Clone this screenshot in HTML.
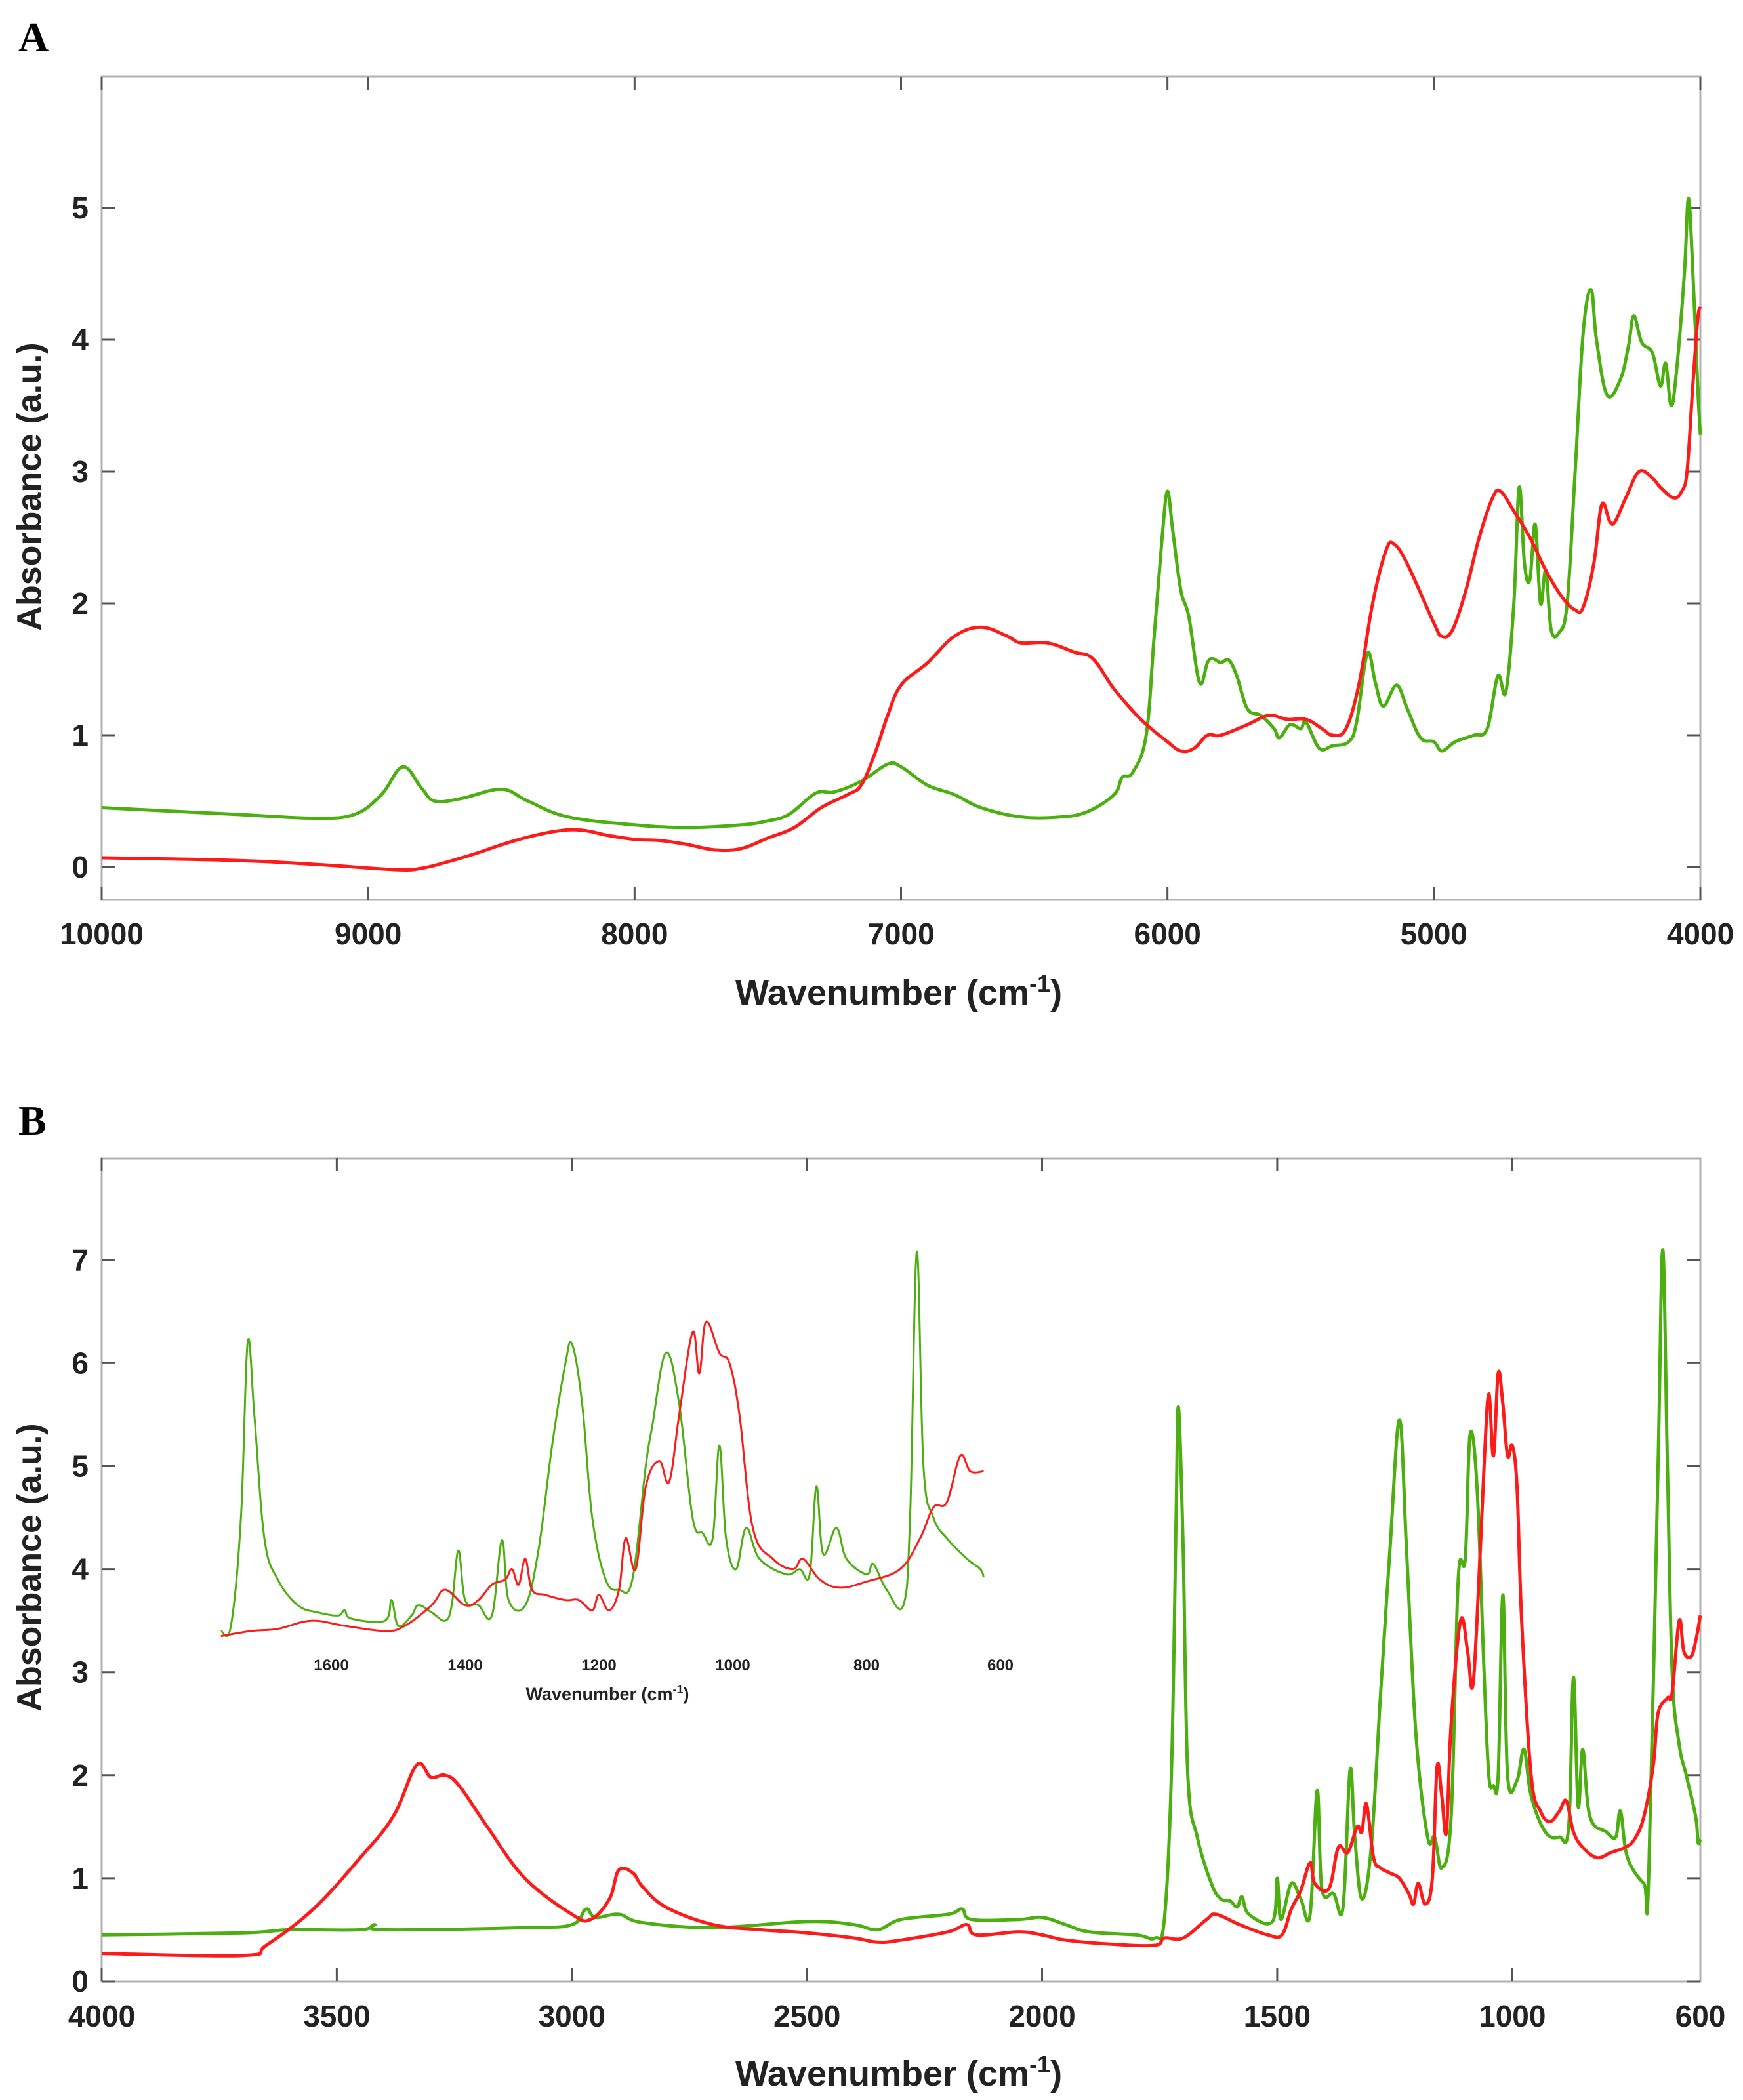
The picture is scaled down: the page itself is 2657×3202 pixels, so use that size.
<!DOCTYPE html>
<html><head><meta charset="utf-8"><style>
html,body{margin:0;padding:0;background:#fff;}
svg{display:block;font-family:"Liberation Sans",Arial,sans-serif;}
</style></head><body>
<svg id="fig" width="2657" height="3202" viewBox="0 0 2657 3202" xmlns="http://www.w3.org/2000/svg">
<text x="28" y="78" font-family="Liberation Serif,serif" font-weight="bold" font-size="64">A</text>
<text x="28" y="1730" font-family="Liberation Serif,serif" font-weight="bold" font-size="64">B</text>
<g id="pa"></g>
<g id="pb"></g>
</svg>
<script>
// ---- Panel A data ----
const aXTicks = [10000, 9000, 8000, 7000, 6000, 5000, 4000];
const aYTicks = [0, 1, 2, 3, 4, 5];
const aGreen = [[10000,0.45],[9500,0.40],[9200,0.37],[9050,0.40],[8950,0.55],[8870,0.76],[8800,0.60],[8750,0.50],[8650,0.52],[8500,0.59],[8400,0.50],[8250,0.38],[8000,0.32],[7800,0.30],[7600,0.32],[7500,0.35],[7420,0.40],[7320,0.56],[7250,0.57],[7150,0.65],[7050,0.78],[7000,0.76],[6900,0.62],[6800,0.55],[6700,0.45],[6550,0.38],[6400,0.38],[6300,0.42],[6200,0.55],[6170,0.68],[6130,0.72],[6080,1.00],[6050,1.75],[6020,2.5],[6000,2.85],[5980,2.55],[5950,2.10],[5920,1.90],[5880,1.40],[5850,1.55],[5830,1.58],[5800,1.55],[5770,1.57],[5740,1.45],[5700,1.20],[5650,1.15],[5600,1.05],[5580,0.98],[5540,1.08],[5500,1.05],[5480,1.10],[5430,0.90],[5380,0.92],[5320,0.95],[5290,1.10],[5250,1.62],[5220,1.40],[5190,1.22],[5140,1.38],[5100,1.20],[5050,0.98],[5000,0.95],[4970,0.88],[4920,0.95],[4850,1.00],[4800,1.05],[4760,1.45],[4730,1.33],[4700,2.00],[4680,2.88],[4660,2.30],[4640,2.18],[4620,2.60],[4600,2.00],[4580,2.25],[4560,1.80],[4530,1.78],[4500,2.00],[4470,3.00],[4440,4.05],[4410,4.38],[4390,4.00],[4350,3.58],[4300,3.70],[4270,3.95],[4250,4.18],[4220,3.98],[4180,3.90],[4150,3.65],[4130,3.82],[4110,3.50],[4090,3.75],[4060,4.50],[4045,5.07],[4030,4.60],[4010,3.65],[4000,3.28]];
const aRed = [[10000,0.07],[9500,0.05],[9200,0.02],[8900,-0.02],[8800,-0.01],[8700,0.04],[8600,0.10],[8450,0.20],[8300,0.27],[8200,0.28],[8100,0.24],[8000,0.21],[7900,0.20],[7800,0.17],[7700,0.13],[7600,0.14],[7500,0.22],[7400,0.30],[7300,0.45],[7200,0.55],[7150,0.62],[7100,0.85],[7050,1.15],[7000,1.38],[6900,1.55],[6800,1.75],[6700,1.82],[6600,1.75],[6550,1.70],[6450,1.70],[6350,1.63],[6280,1.58],[6200,1.35],[6100,1.12],[6000,0.95],[5950,0.88],[5900,0.90],[5850,1.00],[5800,1.00],[5700,1.08],[5620,1.15],[5550,1.12],[5480,1.12],[5420,1.05],[5380,1.00],[5330,1.05],[5280,1.40],[5230,2.00],[5180,2.40],[5150,2.45],[5100,2.30],[5000,1.85],[4970,1.75],[4930,1.80],[4880,2.10],[4830,2.50],[4780,2.80],[4750,2.85],[4700,2.70],[4640,2.50],[4580,2.25],[4520,2.05],[4470,1.95],[4440,1.97],[4400,2.30],[4370,2.75],[4340,2.62],[4320,2.62],[4280,2.80],[4230,3.00],[4180,2.95],[4150,2.88],[4100,2.80],[4070,2.85],[4050,3.00],[4030,3.60],[4010,4.15],[4000,4.25]];
// ---- Panel B data ----
const bXTicks = [4000, 3500, 3000, 2500, 2000, 1500, 1000];
const bXLabels = [4000, 3500, 3000, 2500, 2000, 1500, 1000, 600];
const bYTicks = [0, 1, 2, 3, 4, 5, 6, 7];
const bGreen = [[4000,0.45],[3700,0.47],[3600,0.50],[3450,0.50],[3420,0.55],[3400,0.50],[3100,0.52],[3000,0.55],[2970,0.70],[2950,0.62],[2900,0.65],[2850,0.57],[2700,0.52],[2500,0.58],[2400,0.55],[2350,0.50],[2300,0.60],[2200,0.65],[2170,0.70],[2150,0.60],[2050,0.60],[2000,0.62],[1950,0.55],[1900,0.48],[1800,0.45],[1760,0.42],[1740,0.60],[1725,2.0],[1715,4.5],[1710,5.57],[1700,4.2],[1690,2.0],[1670,1.4],[1640,0.95],[1620,0.80],[1600,0.78],[1585,0.72],[1575,0.82],[1560,0.65],[1510,0.58],[1500,1.0],[1492,0.6],[1470,0.95],[1450,0.80],[1430,0.65],[1415,1.85],[1405,0.90],[1380,0.85],[1360,0.72],[1345,2.05],[1335,1.40],[1320,0.80],[1300,1.30],[1280,2.80],[1260,4.20],[1240,5.45],[1225,4.20],[1205,2.40],[1180,1.40],[1165,1.40],[1150,1.10],[1130,1.60],[1115,3.90],[1100,4.10],[1090,5.30],[1075,4.80],[1060,3.00],[1050,2.00],[1040,1.90],[1030,2.00],[1020,3.75],[1010,2.00],[990,1.95],[975,2.25],[960,1.80],[930,1.45],[900,1.40],[880,1.50],[870,2.95],[860,1.70],[850,2.25],[835,1.60],[800,1.45],[780,1.40],[770,1.65],[755,1.20],[720,0.95],[710,1.00],[690,5.0],[680,7.1],[670,5.0],[660,3.0],[645,2.30],[630,2.00],[610,1.60],[605,1.35],[600,1.38]];
const bRed = [[4000,0.27],[3700,0.25],[3650,0.35],[3550,0.70],[3450,1.20],[3380,1.60],[3330,2.10],[3300,1.98],[3270,2.00],[3240,1.90],[3180,1.50],[3100,1.00],[3000,0.65],[2960,0.60],[2920,0.80],[2900,1.08],[2870,1.05],[2850,0.92],[2800,0.72],[2700,0.55],[2600,0.50],[2500,0.47],[2400,0.42],[2350,0.38],[2300,0.40],[2200,0.48],[2160,0.55],[2140,0.45],[2050,0.48],[2000,0.45],[1950,0.40],[1850,0.36],[1760,0.35],[1740,0.42],[1700,0.42],[1650,0.60],[1630,0.65],[1580,0.55],[1520,0.45],[1490,0.45],[1470,0.70],[1450,0.88],[1430,1.15],[1420,0.95],[1390,0.90],[1370,1.30],[1350,1.25],[1330,1.50],[1320,1.45],[1310,1.72],[1295,1.20],[1280,1.10],[1260,1.05],[1240,1.00],[1220,0.85],[1210,0.75],[1200,0.95],[1185,0.75],[1170,1.00],[1160,2.08],[1150,1.80],[1140,1.45],[1130,2.50],[1110,3.50],[1095,3.20],[1085,2.85],[1075,3.50],[1060,5.00],[1050,5.70],[1040,5.10],[1030,5.90],[1020,5.60],[1010,5.10],[1000,5.20],[990,4.80],[980,3.50],[960,2.00],[940,1.65],[920,1.55],[900,1.65],[885,1.75],[870,1.45],[850,1.30],[820,1.20],[790,1.25],[760,1.30],[740,1.38],[720,1.60],[700,2.10],[690,2.60],[670,2.75],[660,2.80],[645,3.50],[635,3.20],[620,3.15],[610,3.30],[600,3.55]];
// ---- Inset data ----
const iXLabels = [1600, 1400, 1200, 1000, 800, 600];
const iGreen = [[1765,3.40],[1750,3.45],[1735,4.50],[1725,6.20],[1715,5.50],[1700,4.30],[1680,3.90],[1650,3.65],[1620,3.58],[1590,3.55],[1580,3.60],[1570,3.52],[1520,3.50],[1510,3.70],[1500,3.45],[1480,3.55],[1470,3.65],[1450,3.58],[1430,3.50],[1420,3.65],[1410,4.18],[1400,3.70],[1380,3.65],[1360,3.55],[1345,4.28],[1335,3.70],[1310,3.65],[1290,4.20],[1270,5.20],[1250,6.00],[1240,6.18],[1225,5.60],[1210,4.50],[1190,3.90],[1170,3.80],[1150,3.90],[1130,5.00],[1120,5.40],[1100,6.10],[1080,5.60],[1060,4.50],[1045,4.35],[1030,4.30],[1020,5.20],[1010,4.30],[995,4.00],[980,4.40],[960,4.10],[920,3.95],[900,4.00],[885,3.95],[875,4.80],[865,4.15],[845,4.40],[830,4.10],[800,3.95],[790,4.05],[770,3.80],[745,3.65],[735,4.50],[725,7.08],[715,5.00],[700,4.50],[680,4.30],[650,4.10],[630,4.00],[625,3.92]];
const iRed = [[1765,3.35],[1720,3.40],[1680,3.42],[1630,3.50],[1580,3.45],[1520,3.40],[1490,3.45],[1450,3.65],[1430,3.80],[1400,3.65],[1380,3.70],[1360,3.85],[1340,3.90],[1330,4.00],[1320,3.85],[1310,4.10],[1300,3.80],[1280,3.75],[1250,3.70],[1230,3.70],[1210,3.60],[1200,3.75],[1185,3.60],[1170,3.80],[1160,4.30],[1145,4.00],[1130,4.80],[1110,5.05],[1095,4.85],[1080,5.50],[1060,6.30],[1050,5.90],[1040,6.40],[1020,6.10],[1005,6.00],[990,5.50],[970,4.40],[940,4.10],[910,4.00],[895,4.10],[870,3.90],[840,3.82],[800,3.88],[750,4.00],[720,4.30],[700,4.60],[680,4.65],[660,5.10],[645,4.95],[625,4.95]];

const NS = "http://www.w3.org/2000/svg";
function mk(parent, tag, attrs, text) {
  const e = document.createElementNS(NS, tag);
  for (const k in attrs) e.setAttribute(k, attrs[k]);
  if (text !== undefined) e.textContent = text;
  parent.appendChild(e);
  return e;
}
const L = 155, R = 2592;
const xA = w => L + (10000 - w) / 6000 * (R - L);
const yA = v => 1322 - 201 * v;
const xB = w => L + (4000 - w) / 3400 * (R - L);
const yB = v => 3021 - 157.1 * v;
const xI = w => 505 + (1600 - w) * 1.02;

function pathOf(data, fx, fy) {
  const P = data.map(p => [fx(p[0]), fy(p[1])]);
  let d = "M" + P[0][0].toFixed(1) + " " + P[0][1].toFixed(1);
  const t = 0.18;
  for (let i = 0; i < P.length - 1; i++) {
    const p0 = P[Math.max(0, i - 1)], p1 = P[i], p2 = P[i + 1], p3 = P[Math.min(P.length - 1, i + 2)];
    const c1x = p1[0] + (p2[0] - p0[0]) * t, c1y = p1[1] + (p2[1] - p0[1]) * t;
    const c2x = p2[0] - (p3[0] - p1[0]) * t, c2y = p2[1] - (p3[1] - p1[1]) * t;
    d += ` C${c1x.toFixed(1)} ${c1y.toFixed(1)} ${c2x.toFixed(1)} ${c2y.toFixed(1)} ${p2[0].toFixed(1)} ${p2[1].toFixed(1)}`;
  }
  return d;
}

function panel(g, top, bottom, fx, fy, xt, xl, yt, xTitleY, labY, yTitleY) {
  const box = mk(g, "rect", {x: L, y: top, width: R - L, height: bottom - top, fill: "none", stroke: "#b0b0b0", "stroke-width": 3});
  
  
  xt.forEach(t => {
    const x = fx(t);
    const tk = mk(g, "path", {d: `M${x} ${bottom}v-20M${x} ${top}v20`, stroke: "#555", "stroke-width": 3});
    
    
  });
  xl.forEach(t => {
    const lb = mk(g, "text", {x: fx(t), y: labY, "text-anchor": "middle", "font-size": 46, "font-weight": "bold", fill: "#222"}, t);
    
    
  });
  yt.forEach(t => {
    const y = fy(t);
    const tk = mk(g, "path", {d: `M${L} ${y}h20M${R} ${y}h-20`, stroke: "#555", "stroke-width": 3});
    
    
    const lb = mk(g, "text", {x: 135, y: y + 16, "text-anchor": "end", "font-size": 46, "font-weight": "bold", fill: "#222"}, t);
    
    
  });
  const xt2 = mk(g, "text", {x: 1370, y: xTitleY, "text-anchor": "middle", "font-size": 54, "font-weight": "bold", fill: "#222"});
  
  
  xt2.innerHTML = 'Wavenumber (cm<tspan dy="-20" font-size="36">-1</tspan><tspan dy="20">)</tspan>';
  const yt2 = mk(g, "text", {x: 0, y: 0, transform: `translate(62 ${yTitleY}) rotate(-90)`, "text-anchor": "middle", "font-size": 52, "font-weight": "bold", fill: "#222"}, "Absorbance (a.u.)");
  
  
}

const pa = document.getElementById("pa");
panel(pa, 117, 1372, xA, yA, aXTicks, aXTicks, aYTicks, 1532, 1440, 742);
const ag = mk(pa, "path", {d: pathOf(aGreen, xA, yA), fill: "none", stroke: "#4caf10", "stroke-width": 5, "stroke-linejoin": "round"});


const ar = mk(pa, "path", {d: pathOf(aRed, xA, yA), fill: "none", stroke: "#ff1a1a", "stroke-width": 5, "stroke-linejoin": "round"});



const pb = document.getElementById("pb");
panel(pb, 1766, 3021, xB, yB, bXTicks, bXLabels, bYTicks, 3180, 3090, 2390);
const bg = mk(pb, "path", {d: pathOf(bGreen, xB, yB), fill: "none", stroke: "#4caf10", "stroke-width": 5, "stroke-linejoin": "round"});


const br = mk(pb, "path", {d: pathOf(bRed, xB, yB), fill: "none", stroke: "#ff1a1a", "stroke-width": 5, "stroke-linejoin": "round"});



// inset
const ig = mk(pb, "g", {});


const igp = mk(ig, "path", {d: pathOf(iGreen, xI, yB), fill: "none", stroke: "#4caf10", "stroke-width": 3, "stroke-linejoin": "round"});


const irp = mk(ig, "path", {d: pathOf(iRed, xI, yB), fill: "none", stroke: "#ff1a1a", "stroke-width": 3, "stroke-linejoin": "round"});


iXLabels.forEach(t => {
  const lb = mk(ig, "text", {x: xI(t), y: 2547, "text-anchor": "middle", "font-size": 24, "font-weight": "bold", fill: "#222"}, t);
  
  
});
const ixt = mk(ig, "text", {x: 926, y: 2592, "text-anchor": "middle", "font-size": 27, "font-weight": "bold", fill: "#222"});


ixt.innerHTML = 'Wavenumber (cm<tspan dy="-10" font-size="18">-1</tspan><tspan dy="10">)</tspan>';
</script>
</body></html>
